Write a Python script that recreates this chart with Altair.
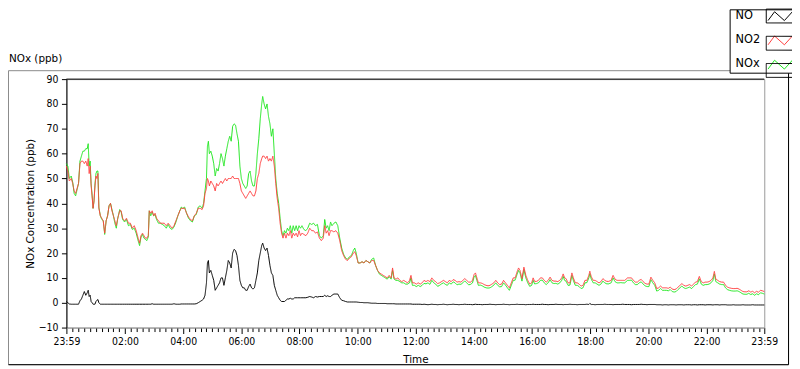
import altair as alt
import pandas as pd

# minutes after 23:59 (start of record)
TIME = [
    0, 3, 6, 10, 13, 16, 19, 22, 25,
    28, 31, 34, 37, 40, 43, 45, 47, 49,
    51, 53, 55, 57, 59, 61, 63, 65, 67,
    70, 73, 76, 79, 82, 85, 88, 91, 94,
    97, 100, 103, 106, 110, 113, 116, 120, 124,
    128, 132, 136, 140, 144, 148, 151, 154, 157,
    160, 163, 166, 169, 171, 174, 177, 180, 183,
    186, 190, 194, 198, 202, 206, 210, 214, 218,
    222, 226, 230, 234, 237, 240,
    244, 248, 252, 256, 260, 264, 268, 272, 276,
    280, 283, 286, 289, 291, 293, 295, 298, 301,
    304, 307, 310, 313, 316, 319, 322, 325, 328,
    331, 334, 337, 340, 343, 346, 349, 352, 355,
    358, 361, 364, 367, 370, 373, 376, 379, 382,
    385, 388, 391, 394, 397, 400, 403, 405, 408,
    411, 414, 417, 420, 423, 426, 429, 432, 435,
    438, 441, 444, 447, 450, 453, 456, 459, 462,
    465, 468, 471, 474, 477, 480, 483,
    486, 490, 494, 498, 502, 506, 510, 514, 518,
    522, 526, 530, 533, 536, 539, 542, 545, 548,
    552, 556, 560, 564, 568, 572, 576, 580, 584,
    588, 592, 595, 598, 602, 606, 610, 614, 618,
    622, 626, 630, 634, 638, 642, 646, 650, 654,
    658, 662, 666, 670, 673, 676, 680, 684, 688,
    692, 696, 700, 704, 708, 711, 714, 718, 722,
    726, 730,
    734, 738, 742, 746, 750, 754, 758, 762, 766,
    770, 774, 778, 782, 786, 790, 794, 798, 802,
    806, 810, 814, 818, 822, 826, 830, 834, 838,
    841, 844, 847, 850, 854, 858, 862, 866, 870,
    874, 878, 882, 886, 890, 894, 898, 902, 906,
    910, 914, 918, 922, 926, 930, 933, 936, 940,
    944, 948, 952, 956, 960, 963, 966, 970,
    974, 978, 982, 986, 990, 994, 998, 1002, 1006,
    1010, 1014, 1018, 1022, 1025, 1028, 1031, 1035, 1039,
    1043, 1046, 1050, 1054, 1058, 1062, 1066, 1070, 1074,
    1078, 1080, 1083, 1087, 1091, 1095, 1099, 1103, 1107,
    1111, 1115, 1119, 1124, 1128, 1132, 1136, 1140, 1144,
    1148, 1152, 1158, 1162, 1166, 1170, 1174, 1178, 1182,
    1186, 1190, 1194, 1198, 1202, 1206, 1210, 1214, 1218,
    1222, 1226, 1230, 1234, 1238, 1242, 1246, 1250, 1254,
    1258, 1262, 1266, 1270, 1274, 1278, 1282, 1286, 1290,
    1294, 1298, 1302, 1306, 1310, 1314, 1318, 1322, 1326,
    1330, 1334, 1337, 1340, 1344, 1348, 1352, 1356, 1360,
    1364, 1368, 1372, 1376, 1380, 1384, 1388, 1392, 1396,
    1400, 1404, 1408, 1412, 1416, 1420, 1424, 1428, 1432,
    1436, 1440,
]

NO = [
    0.5, 0, -0.5, -0.6, -0.6, -0.6, -0.6, -0.6, -0.6,
    0.8, 1.5, 3, 4.5, 3, 4, 5, 2.5, 3,
    0.5, 0, -0.6, -0.6, -0.6, 0.5, 1, 1.3, 0,
    -0.6, -0.6, -0.6, -0.6, -0.6, -0.6, -0.6, -0.6, -0.6,
    -0.6, -0.6, -0.6, -0.6, -0.6, -0.6, -0.6, -0.6, -0.6,
    -0.6, -0.6, -0.6, -0.6, -0.6, -0.6, -0.6, -0.6, -0.6,
    -0.6, -0.6, -0.6, -0.6, -0.6, -0.6, -0.4, -0.6, -0.6,
    -0.6, -0.6, -0.6, -0.6, -0.6, -0.6, -0.6, -0.6, -0.6,
    -0.4, -0.6, -0.6, -0.6, -0.5, -0.5,
    -0.5, -0.5, -0.5, -0.5, -0.5, -0.5, -0.4, 0, 0.5,
    1, 1.5, 3, 8, 16, 17, 12, 13, 11,
    9, 5, 6, 7, 8, 10, 10, 7, 10,
    13, 17, 16, 14, 20, 21.5, 21, 19, 15,
    9, 7, 6, 6, 5, 5, 6.5, 7.5, 6,
    5.5, 6, 9, 12, 17, 20, 23, 24, 22,
    21, 22, 19, 15, 12, 11, 7, 5, 3,
    2, 1, 0.5, 0.5, 0.5, 1, 1.5, 1.5, 1.8,
    1.5, 1.5, 2, 2, 2, 2, 2,
    2, 2, 2, 2.2, 2.5, 2.3, 2, 2.5, 2.3,
    2.5, 2.5, 2.5, 3, 2.5, 2.8, 2.5, 2.5, 3,
    3.5, 3.5, 3.5, 2, 1, 0.8, 0.5, 0.3, 0.3,
    0.3, 0.3, 0.3, 0.3, 0.2, 0.1, 0.1, 0, 0,
    0, -0.1, -0.2, -0.2, -0.2, -0.3, -0.3, -0.3, -0.3,
    -0.3, -0.4, -0.4, -0.4, -0.4, -0.4, -0.5, -0.5, -0.5,
    -0.5, -0.5, -0.5, -0.5, -0.5, -0.5, -0.6, -0.6, -0.6,
    -0.6, -0.6,
    -0.7, -0.6, -0.7, -0.8, -0.7, -0.6, -0.7, -0.7, -0.8,
    -0.7, -0.7, -0.6, -0.7, -0.8, -0.7, -0.7, -0.6, -0.7,
    -0.7, -0.8, -0.7, -0.7, -0.6, -0.7, -0.7, -0.7, -0.8,
    -0.7, -0.6, -0.7, -0.7, -0.7, -0.8, -0.7, -0.7, -0.7,
    -0.6, -0.7, -0.7, -0.8, -0.7, -0.7, -0.7, -0.6, -0.7,
    -0.7, -0.8, -0.7, -0.7, -0.7, -0.6, -0.7, -0.7, -0.7,
    -0.7, -0.8, -0.7, -0.7, -0.7, -0.6, -0.7, -0.7,
    -0.7, -0.7, -0.6, -0.7, -0.7, -0.8, -0.7, -0.7, -0.7,
    -0.6, -0.7, -0.7, -0.7, -0.8, -0.7, -0.7, -0.7, -0.6,
    -0.7, -0.7, -0.7, -0.8, -0.7, -0.7, -0.7, -0.7, -0.6,
    -0.7, -0.3, -0.7, -0.7, -0.8, -0.7, -0.7, -0.7, -0.7,
    -0.6, -0.7, -0.7, -0.7, -0.8, -0.7, -0.7, -0.7, -0.7,
    -0.6, -0.7, -0.7, -0.7, -0.8, -0.7, -0.7, -0.7, -0.7,
    -0.6, -0.7, -0.7, -0.8, -0.7, -0.7, -0.7, -0.7, -0.8,
    -0.8, -0.8, -0.9, -0.8, -0.8, -0.9, -0.8, -0.8, -0.8,
    -0.9, -0.8, -0.8, -0.8, -0.9, -0.8, -0.8, -0.8, -0.9,
    -0.8, -0.8, -0.9, -0.8, -0.8, -0.8, -0.9, -0.8, -0.8,
    -0.8, -0.9, -0.8, -0.8, -0.8, -0.9, -0.8, -0.8, -0.8,
    -0.9, -0.9, -0.9, -0.8, -0.9, -0.9, -0.9, -0.9, -0.8,
    -0.9, -0.9, -0.9, -0.9, -0.8, -0.9, -0.9, -0.9, -0.9,
    -0.9, -0.9,
]

NO2 = [
    55, 53, 49, 50, 48, 45, 44, 46, 48,
    56, 57, 57, 56, 57, 55, 58, 52, 55,
    47, 43, 38, 41, 47, 51, 50, 52, 38,
    35, 34, 33, 28, 33, 35, 39, 40, 37,
    35, 33, 31, 34, 37, 37, 34, 33, 34,
    32, 32, 30, 31, 29, 26, 24, 27, 28,
    27, 26, 26, 27, 37, 36, 37, 35, 36,
    34, 33, 32, 32, 32, 31, 32, 31, 30,
    31, 33, 35, 37, 38, 38,
    38, 36, 34.5, 33.5, 33, 35, 36, 38, 38,
    37.5, 39, 44, 46, 50, 49, 47, 49, 48,
    47, 45, 48, 47, 48, 49, 48, 49, 50,
    49, 50, 50, 50, 51, 50, 50, 50, 50,
    48, 45, 44, 43, 42, 43, 44, 45, 44,
    43, 43, 45, 50, 52, 56, 58, 59, 59,
    58, 59, 57, 58, 57, 59, 55, 48, 42,
    38, 32, 28, 26, 28, 26, 28, 27, 29,
    26, 28, 27, 28, 26.5, 29, 27,
    28, 27.5, 27, 28, 30, 29, 29, 28, 28.5,
    26, 25, 26, 31, 28, 29, 27, 29, 29,
    28.5, 29, 28, 25, 21, 19, 17.5, 17, 18,
    18.5, 20, 20.5, 19, 16, 16, 16.5, 16, 17,
    16.5, 16, 17, 17, 15, 13, 12, 11.5, 11,
    10.5, 10, 11, 10, 14, 10, 9.5, 10, 9,
    8.5, 9, 8.5, 8, 9, 11, 8, 8, 7.5,
    8, 7.5,
    8, 9, 8.5, 9, 8.5, 10, 9, 8.5, 7.7,
    8, 8.5, 9, 8.5, 8, 9, 8.5, 9.3, 9,
    8.3, 8.5, 8.3, 9, 9.7, 9, 8.3, 8.3, 9,
    11.3, 12, 10, 8, 8, 7.8, 7.3, 7, 6.8,
    7, 7.5, 8, 9, 8, 7.3, 7.5, 9, 8,
    7, 6, 8, 10, 10, 12.5, 14, 13, 9.7,
    14.3, 11, 9, 7.5, 8, 10, 8.6, 8.6,
    9, 10, 10, 9, 8.3, 9, 10.3, 9, 8.7,
    8.7, 8.5, 9, 10, 11.6, 10, 9.7, 8, 8,
    12, 10, 8, 8, 7.5, 6.7, 7, 9, 9,
    11, 12.7, 10.5, 9, 9, 8.5, 8, 8.5, 9.7,
    9, 8.6, 8.6, 9, 11, 9.5, 9, 9, 9,
    9, 9, 10, 10, 10, 9, 8.3, 8.3, 9,
    9.4, 8.5, 7.8, 7.5, 7.5, 10.3, 9, 8, 5.7,
    6, 6.7, 6, 6, 6, 5.8, 6.3, 5.5, 5.3,
    5.5, 6.3, 7, 7.7, 7, 6.7, 7, 7.3, 6.7,
    7.5, 8.3, 8.5, 10.6, 8.5, 8, 8.3, 8.3, 8.5,
    9, 10, 12.6, 9.5, 9, 8.5, 8.3, 8.3, 7,
    6.3, 6, 5.8, 5.7, 5.7, 5.8, 5.5, 5, 4.5,
    4.4, 4.4, 4.8, 4.3, 4.6, 4, 4.6, 4.2, 5,
    4.8, 4.5,
]

NOX = [
    56, 55, 50, 51, 48.5, 44, 43, 45.5, 48,
    57, 59, 61, 61, 62, 62, 64, 55, 57,
    48, 43.5, 38, 41, 48, 52, 53, 53, 38.5,
    35, 33.5, 33, 27.5, 33, 35, 39, 40, 37.5,
    35, 32, 30, 34, 37.5, 36.5, 33.5, 32.5, 33.5,
    31, 31.5, 29.5, 30, 28, 25, 23, 26.5, 27.5,
    26, 25.5, 25, 26.5, 37, 35, 36.5, 35, 35.5,
    33.5, 32, 32, 31.5, 31, 30, 31.5, 30, 29.5,
    30.5, 32.5, 35, 37, 38.5, 38,
    38.5, 36, 34, 33, 32.5, 35, 35.5, 38.5, 39,
    38, 40, 45, 50, 63, 65, 60, 61, 59,
    56, 51, 54, 53, 56, 60, 58, 55, 59,
    62, 65, 67, 65, 71, 72, 71.5, 68, 65,
    55, 50, 48, 47, 46, 47, 52, 53, 49,
    47, 47, 52, 60, 66, 74, 80, 83, 80,
    78, 80, 75, 72, 67, 70, 60, 50, 44,
    40, 34, 29, 27, 29, 28, 30, 29, 31,
    28, 31, 29, 31, 29, 31, 30,
    31, 29.5, 29, 30, 32, 31.5, 32, 31, 31.5,
    27, 26, 27, 33.5, 30, 31, 29, 32.5, 31,
    32, 32.5, 31, 26, 22, 19.5, 18, 17.5, 18.5,
    19, 21, 22, 20, 16, 16, 16.5, 16, 17,
    16.5, 16, 17.5, 18, 15, 13, 11.5, 11, 10.5,
    10, 9.5, 10.5, 9.5, 13, 9.5, 9, 9, 8.5,
    8, 8, 7.5, 7.5, 8, 10, 7, 7, 6.5,
    7, 6.5,
    7, 7.8, 7.6, 8, 7.4, 9, 8, 7.5, 6.6,
    7, 7.6, 8, 7.4, 7, 8, 7.5, 8.4, 8,
    7.2, 7.5, 7.4, 8, 8.8, 8, 7.2, 7.4, 8,
    10.3, 11, 9, 7, 7.1, 6.8, 6.3, 6, 5.9,
    6, 6.5, 7.1, 8, 7, 6.4, 6.5, 8, 7.1,
    6, 5, 7, 9, 9.1, 11.5, 13, 12, 8.7,
    13.3, 10, 8, 6.6, 7, 9, 7.6, 7.7,
    8, 9, 9.1, 8, 7.3, 8, 9.3, 8, 7.7,
    7.8, 7.5, 8, 9, 10.6, 9, 8.7, 7, 7.1,
    11, 9, 7, 7, 6.5, 5.7, 6, 8, 8.1,
    10, 11.7, 9.5, 8, 8, 7.5, 7, 7.5, 8.7,
    8, 7.6, 7.6, 8, 10, 8.5, 8, 8, 8.1,
    8, 8, 9, 9, 9.1, 8, 7.3, 7.3, 8,
    8.4, 7.5, 6.8, 6.5, 6.5, 9.3, 8, 7, 4.7,
    5, 5.7, 5, 5, 5, 4.8, 5.3, 4.5, 4.3,
    4.5, 5.3, 6, 6.7, 6, 5.7, 6, 6.3, 5.7,
    6.5, 7.3, 7.5, 9.6, 7.5, 7, 7.3, 7.3, 7.5,
    8, 9, 11.6, 8.5, 8, 7.5, 7.3, 7.3, 6,
    5.3, 5, 4.8, 4.7, 4.7, 4.8, 4.5, 4, 3.5,
    3.4, 3.4, 3.8, 3.3, 3.6, 3, 3.6, 3.2, 4,
    3.8, 3.5,
]

SERIES = ["NO", "NO2", "NOx"]
BOX_KEYS = ["a_NO", "b_NO2", "c_NOx"]
COLORS = ["#000000", "#ff4040", "#1ee61e"]
Y_TICKS = [-10, 0, 10, 20, 30, 40, 50, 60, 70, 80, 90]
X_MAJOR = [0, 121, 241, 361, 481, 601, 721, 841, 961, 1081, 1201, 1321, 1440]
X_TICKS = sorted(set(X_MAJOR) | {1 + 12 * k for k in range(1, 120)})

assert len(TIME) == len(NO) == len(NO2) == len(NOX), (len(TIME), len(NO), len(NO2), len(NOX))

rows = []
for name, key, vals in zip(SERIES, BOX_KEYS, [NO, NO2, NOX]):
    for t, v in zip(TIME, vals):
        rows.append({"t": t, "series": name, "series_b": key, "v": v})
df = pd.DataFrame(rows)

FONT = "DejaVu Sans"
NUMFONT = "DejaVu Sans Condensed"

major_test = "datum.value == 0 || datum.value == 1440 || (datum.value - 1) % 120 == 0"
label_expr = (
    "datum.value == 0 || datum.value == 1440 ? '23:59' : "
    "((datum.value - 1) % 120 == 0 ? "
    "((((datum.value - 1) / 60) < 10) ? '0' : '') + ((datum.value - 1) / 60) + ':00' : '')"
)

x_enc = alt.X(
    "t:Q",
    scale=alt.Scale(domain=[0, 1440], nice=False, zero=False),
    axis=alt.Axis(
        values=X_TICKS, labelExpr=label_expr, title="Time",
        tickSize={"condition": {"test": major_test, "value": 6}, "value": 4},
        tickColor="#000000", domainColor="#9a9a9a", grid=False,
        labelFont=NUMFONT, labelFontSize=10.5, labelColor="#000000",
        labelPadding=3, labelFlush=False, labelOverlap=False, labelBound=False,
        titleFont=FONT, titleFontSize=10.5, titleFontWeight="normal", titleColor="#000000",
        titleX=352.5, titleY=32, titleBaseline="middle", titleAlign="center",
    ),
)
y_enc = alt.Y(
    "v:Q",
    scale=alt.Scale(domain=[-10, 90], nice=False, zero=False),
    axis=alt.Axis(
        values=Y_TICKS, title="NOx Concentration (ppb)", tickSize=5, tickColor="#000000",
        domainColor="#000000", grid=False, labelFont=NUMFONT, labelFontSize=10.5,
        labelColor="#000000", labelPadding=3.5, labelFlush=False, labelOverlap=False,
        titleFont=FONT, titleFontSize=10.5, titleFontWeight="normal", titleColor="#000000",
        titleX=-36, titleY=125.5, titleAngle=-90, titleAlign="center", titleBaseline="middle",
    ),
)

ZIG = "M-13.2,4.6L-6.6,-4.3L3.3,4.6L13.2,-6.3"
BOX = "M-15,-7L15,-7L15,7L-15,7Z"

legend_common = dict(
    orient="none", legendX=670, legendY=-70.5, title=None, symbolSize=4,
    symbolStrokeWidth=1, symbolFillColor="transparent", symbolOffset=45.25,
    labelOffset=alt.ExprRef("-51.75"), labelFont=FONT, labelFontSize=11.5,
    rowPadding=8.5, padding=1,
)
color_legend = alt.Legend(
    symbolType=ZIG, labelColor="#000000", strokeColor="#000000", fillColor="#ffffff",
    **legend_common,
)
box_legend = alt.Legend(
    symbolType=BOX, symbolStrokeColor="#000000", labelColor="transparent",
    labelExpr="''", **legend_common,
)

color_enc = alt.Color("series:N", scale=alt.Scale(domain=SERIES, range=COLORS), legend=color_legend)
dash_enc = alt.StrokeDash(
    "series_b:N", scale=alt.Scale(domain=BOX_KEYS, range=[[1, 0], [1, 0], [1, 0]]), legend=box_legend
)

base = alt.Chart(df)
lines = [
    base.transform_filter(alt.datum.series == s)
    .mark_line(strokeWidth=1, interpolate="linear")
    .encode(x=x_enc, y=y_enc, color=color_enc, strokeDash=dash_enc, order="t:Q")
    for s in ["NOx", "NO2", "NO"]
]

deco = alt.Chart(pd.DataFrame({"d": [0]}))
frame = deco.mark_rect(fillOpacity=0, stroke="#8a8a8a", strokeWidth=1).encode(
    x=alt.value(-58.5), x2=alt.value(729.5), y=alt.value(-8.5), y2=alt.value(288.5)
)
frame_bottom = deco.mark_rule(color="#000000", strokeWidth=1).encode(
    x=alt.value(-58.5), x2=alt.value(729.5), y=alt.value(288.5)
)
frame_right = deco.mark_rule(color="#000000", strokeWidth=1).encode(
    x=alt.value(729.5), y=alt.value(-8.5), y2=alt.value(288.5)
)
top_rule = deco.mark_rule(color="#000000", strokeWidth=1).encode(
    x=alt.value(0), x2=alt.value("width"), y=alt.value(0)
)
caption = deco.mark_text(
    align="left", baseline="middle", font=FONT, fontSize=10.5, color="#000000"
).encode(x=alt.value(-58), y=alt.value(-20), text=alt.value("NOx (ppb)"))

chart = (
    alt.layer(frame, frame_bottom, frame_right, caption, *lines, top_rule)
    .properties(
        width=705, height=251, autosize="none",
        padding={"left": 59, "top": 70, "right": 28, "bottom": 40},
        background="#ffffff",
    )
    .configure_view(stroke="#9a9a9a", strokeWidth=1)
)

chart.save("out.html", embed_options={"renderer": "svg", "actions": False})
